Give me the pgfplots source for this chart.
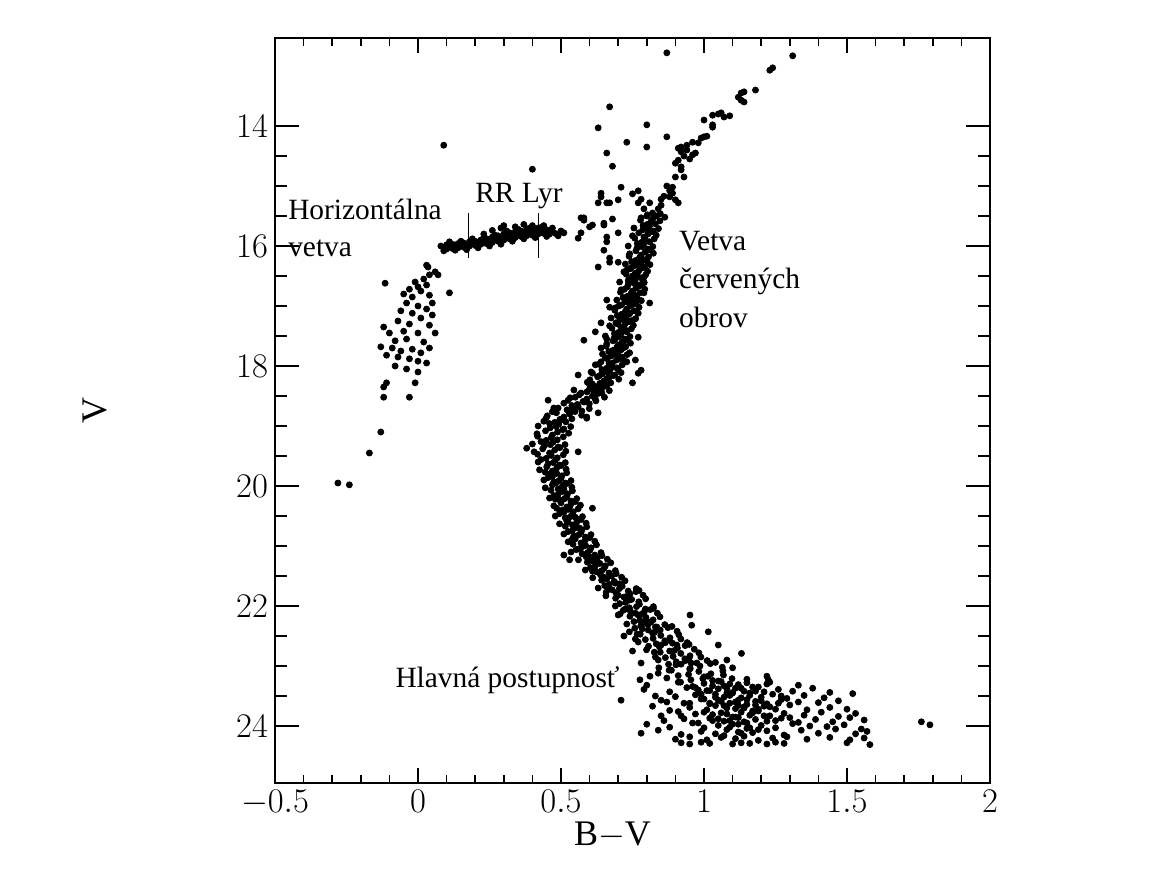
\documentclass[border=0pt]{standalone}
\usepackage{fontspec}
\setmainfont{Liberation Serif}
\usepackage{pgfplots}
\pgfplotsset{compat=1.18}
\pgfplotsset{star/.style={black, only marks, mark=*, mark size=1.5pt, mark options={solid, draw=black, fill=black}}}
\begin{document}
\begin{tikzpicture}
\useasboundingbox (0,0) rectangle (587pt,437pt);
\begin{axis}[
  at={(137.5pt,45.5pt)}, anchor=south west,
  scale only axis, width=357.5pt, height=372.5pt,
  xmin=-0.5, xmax=2, ymin=12.533, ymax=24.95, y dir=reverse,
  xtick={-0.5,0,0.5,1,1.5,2}, ytick={14,16,18,20,22,24},
  minor x tick num=4, minor y tick num=3,
  tick align=inside,
  axis line style={line width=1pt},
  tick style={line width=0.8pt, black},
  xtick style={/pgfplots/major tick length=7.5pt,/pgfplots/minor tick length=4pt},
  ytick style={/pgfplots/major tick length=12pt,/pgfplots/minor tick length=6pt},
  ticklabel style={font=\fontsize{17.5}{20}\selectfont},
  xlabel={$\mathrm{B{-}V}$}, ylabel={$\mathrm{V}$},
  label style={font=\fontsize{18}{21}\selectfont},
  xlabel style={at={(axis description cs:0.472,-0.07)}, anchor=center},
  ylabel style={at={(axis description cs:-0.252,0.50)}, anchor=center},
]
% upper red giant branch and asymptotic giants
\addplot[star] coordinates {
(0.87,12.78) (1.31,12.83) (1.23,13.07) (1.24,13.03) (1.18,13.40) (1.13,13.45) (1.13,13.57) (1.14,13.60) (1.14,13.43) (1.12,13.52)
(1.03,13.82) (1.06,13.78) (1.07,13.85) (1.09,13.83) (1.00,13.90) (1.03,14.02) (1.03,13.98) (1.05,13.80)
(1.00,14.18) (0.99,14.20) (1.01,14.17)
(0.96,14.27) (0.94,14.32) (0.92,14.35) (0.91,14.37) (0.92,14.43) (0.94,14.40) (0.96,14.48) (0.97,14.45) (0.98,14.28) (0.95,14.55) (0.93,14.50)
(0.91,14.57) (0.92,14.68) (0.92,14.73) (0.93,14.85) (0.90,14.85) (0.90,14.62)
(0.87,15.00) (0.88,15.08) (0.89,15.12) (0.86,15.17) (0.85,15.22) (0.89,15.02)
(0.77,15.08) (0.75,15.13) (0.78,15.22) (0.77,15.28) (0.81,15.28) (0.84,15.38) (0.79,15.38) (0.80,15.50) (0.82,15.45) (0.85,15.32) (0.88,15.18) (0.90,15.23) (0.91,15.28)
(0.67,13.68) (0.63,14.03) (0.80,13.98) (0.73,14.27) (0.80,14.35) (0.87,14.18) (0.66,14.45) (0.68,14.67) (0.71,15.02) (0.64,15.18) (0.63,15.28) (0.67,15.28) (0.70,15.23)
(0.58,15.53) (0.60,15.68) (0.65,15.62) (0.68,15.55) (0.58,15.57) (0.61,15.65) (0.57,15.78) (0.56,15.87) (0.65,15.65) (0.66,15.85) (0.66,15.93) (0.70,15.78)
(0.63,16.35) (0.67,16.27) (0.70,16.27) (0.57,15.53) (0.66,15.28) (0.65,16.07) (0.67,16.20) (0.64,15.12)
(0.09,14.32) (0.40,14.72)
};
% horizontal branch
\addplot[star] coordinates {
(0.08,16.00) (0.09,16.03) (0.10,15.98) (0.10,16.05) (0.11,16.01) (0.12,15.97) (0.12,16.04) (0.13,16.00) (0.14,15.96) (0.14,16.03)
(0.15,15.99) (0.16,15.95) (0.16,16.02) (0.17,15.98) (0.18,15.93) (0.18,16.00) (0.19,15.96) (0.20,15.92) (0.20,15.99) (0.21,15.95)
(0.22,15.90) (0.22,15.97) (0.23,15.93) (0.24,15.88) (0.24,15.96) (0.25,15.91) (0.26,15.85) (0.26,15.94) (0.27,15.89) (0.28,15.83)
(0.28,15.92) (0.29,15.87) (0.30,15.80) (0.30,15.90) (0.31,15.85) (0.32,15.78) (0.32,15.88) (0.33,15.83) (0.34,15.76) (0.34,15.86)
(0.35,15.81) (0.36,15.75) (0.36,15.84) (0.37,15.80) (0.38,15.72) (0.38,15.83) (0.39,15.78) (0.40,15.74) (0.40,15.82) (0.41,15.77)
(0.42,15.70) (0.42,15.80) (0.43,15.76) (0.44,15.79) (0.45,15.73) (0.46,15.80) (0.47,15.76) (0.48,15.79) (0.50,15.75) (0.51,15.78)
(0.29,15.70) (0.23,15.80) (0.34,15.68)
(0.09,16.08) (0.11,15.93) (0.13,16.07) (0.15,15.92) (0.17,16.06) (0.19,15.88) (0.21,16.03) (0.23,15.86) (0.25,16.00) (0.27,15.82)
(0.29,15.97) (0.31,15.75) (0.33,15.92) (0.35,15.72) (0.37,15.88) (0.39,15.70) (0.41,15.86) (0.43,15.69) (0.45,15.84) (0.47,15.70)
(0.49,15.83) (0.30,15.66) (0.37,15.64) (0.40,15.66) (0.26,15.74) (0.44,15.66)
(0.035,16.35) (0.06,16.43) (0.11,16.78) (-0.115,16.62) (0.04,16.48) (0.02,16.55) (-0.01,16.60) (0.00,16.68) (0.03,16.65) (-0.03,16.72)
(0.01,16.75) (-0.05,16.80) (-0.02,16.85) (0.04,16.82) (0.05,16.95) (-0.04,16.95) (0.00,17.00) (0.03,17.05) (-0.06,17.08) (-0.02,17.12)
(0.05,17.15) (0.01,17.20) (-0.07,17.25) (-0.03,17.30) (0.04,17.32) (-0.12,17.35) (-0.10,17.45) (-0.05,17.42) (0.00,17.45) (0.06,17.45)
(-0.08,17.58) (-0.04,17.55) (0.02,17.60) (-0.13,17.68) (-0.09,17.70) (-0.06,17.75) (-0.02,17.72) (0.01,17.78) (0.04,17.70) (-0.11,17.82)
(-0.07,17.85) (-0.03,17.88) (0.00,17.92) (0.03,17.95) (-0.08,18.00) (-0.04,18.05) (0.00,18.10) (-0.11,18.28) (-0.12,18.35) (-0.01,18.28)
(-0.12,18.52) (-0.03,18.52) (-0.13,19.10) (-0.17,19.45) (-0.28,19.95) (-0.24,19.98) (0.03,16.32) (0.07,16.48)
};
% red giant branch and subgiant branch
\addplot[star] coordinates {
(0.780,15.53) (0.802,15.48) (0.820,15.55) (0.834,15.50) (0.847,15.46) (0.863,15.52)
(0.778,15.57) (0.801,15.64) (0.815,15.59) (0.830,15.63) (0.846,15.58) (0.787,15.66)
(0.755,15.70) (0.786,15.73) (0.809,15.67) (0.823,15.75) (0.841,15.71) (0.802,15.71)
(0.750,15.83) (0.772,15.78) (0.790,15.85) (0.804,15.80) (0.817,15.76) (0.833,15.82)
(0.758,15.87) (0.781,15.94) (0.795,15.89) (0.810,15.93) (0.826,15.88) (0.767,15.96)
(0.735,16.00) (0.766,16.03) (0.789,15.97) (0.803,16.05) (0.821,16.01) (0.782,16.01)
(0.740,16.13) (0.762,16.08) (0.780,16.15) (0.794,16.10) (0.807,16.06) (0.823,16.12)
(0.738,16.17) (0.761,16.24) (0.775,16.19) (0.790,16.23) (0.806,16.18) (0.747,16.26)
(0.725,16.30) (0.756,16.33) (0.779,16.27) (0.793,16.35) (0.811,16.31) (0.772,16.31)
(0.720,16.43) (0.742,16.38) (0.760,16.45) (0.774,16.40) (0.787,16.36) (0.803,16.42)
(0.728,16.47) (0.751,16.54) (0.765,16.49) (0.780,16.53) (0.796,16.48) (0.737,16.56)
(0.705,16.60) (0.736,16.63) (0.759,16.57) (0.773,16.65) (0.791,16.61) (0.752,16.61)
(0.710,16.73) (0.732,16.68) (0.750,16.75) (0.764,16.70) (0.777,16.66) (0.793,16.72)
(0.708,16.77) (0.731,16.84) (0.745,16.79) (0.760,16.83) (0.776,16.78) (0.717,16.86)
(0.695,16.90) (0.726,16.93) (0.749,16.87) (0.763,16.95) (0.781,16.91) (0.742,16.91)
(0.690,17.03) (0.712,16.98) (0.730,17.05) (0.744,17.00) (0.757,16.96) (0.773,17.02)
(0.688,17.07) (0.711,17.14) (0.725,17.09) (0.740,17.13) (0.756,17.08) (0.697,17.16)
(0.675,17.20) (0.706,17.23) (0.729,17.17) (0.743,17.25) (0.761,17.21) (0.722,17.21)
(0.670,17.33) (0.692,17.28) (0.710,17.35) (0.724,17.30) (0.737,17.26) (0.753,17.32)
(0.678,17.37) (0.701,17.44) (0.715,17.39) (0.730,17.43) (0.746,17.38) (0.687,17.46)
(0.655,17.50) (0.686,17.53) (0.709,17.47) (0.723,17.55) (0.741,17.51) (0.702,17.51)
(0.660,17.63) (0.682,17.58) (0.700,17.65) (0.714,17.60) (0.727,17.56) (0.743,17.62)
(0.658,17.67) (0.681,17.74) (0.695,17.69) (0.710,17.73) (0.726,17.68) (0.667,17.76)
(0.645,17.80) (0.676,17.83) (0.699,17.77) (0.713,17.85) (0.731,17.81) (0.692,17.81)
(0.640,17.93) (0.662,17.88) (0.680,17.95) (0.694,17.90) (0.707,17.86) (0.723,17.92)
(0.632,17.97) (0.659,18.04) (0.676,17.99) (0.695,18.03) (0.714,17.98) (0.643,18.06)
(0.605,18.10) (0.644,18.13) (0.671,18.07) (0.688,18.15) (0.710,18.11) (0.663,18.11)
(0.601,18.23) (0.628,18.18) (0.650,18.25) (0.667,18.20) (0.683,18.16) (0.702,18.22)
(0.592,18.27) (0.619,18.34) (0.636,18.29) (0.655,18.33) (0.674,18.28) (0.603,18.36)
(0.545,18.40) (0.591,18.43) (0.623,18.37) (0.643,18.45) (0.669,18.41) (0.613,18.41)
(0.532,18.53) (0.564,18.48) (0.590,18.55) (0.610,18.50) (0.629,18.46) (0.652,18.52)
(0.525,18.57) (0.557,18.64) (0.577,18.59) (0.599,18.63) (0.622,18.58) (0.538,18.66)
(0.475,18.70) (0.521,18.73) (0.553,18.67) (0.573,18.75) (0.599,18.71) (0.543,18.71)
(0.452,18.83) (0.484,18.78) (0.510,18.85) (0.530,18.80) (0.549,18.76) (0.572,18.82)
(0.448,18.87) (0.478,18.94) (0.496,18.89) (0.517,18.93) (0.538,18.88) (0.460,18.96)
(0.420,19.00) (0.462,19.03) (0.492,18.97) (0.510,19.05) (0.534,19.01) (0.483,19.01)
(0.416,19.13) (0.446,19.08) (0.470,19.15) (0.488,19.10) (0.506,19.06) (0.527,19.12)
(0.418,19.17) (0.448,19.24) (0.466,19.19) (0.487,19.23) (0.508,19.18) (0.430,19.26)
(0.400,19.30) (0.442,19.33) (0.472,19.27) (0.490,19.35) (0.514,19.31) (0.463,19.31)
(0.406,19.43) (0.436,19.38) (0.460,19.45) (0.478,19.40) (0.496,19.36) (0.517,19.42)
(0.418,19.47) (0.448,19.54) (0.466,19.49) (0.487,19.53) (0.508,19.48) (0.430,19.56)
(0.64,17.70) (0.72,17.66) (0.68,18.02) (0.70,17.45) (0.62,17.98) (0.66,17.55) (0.61,18.12) (0.74,17.78)
(0.38,19.37) (0.56,19.43) (0.455,18.57) (0.59,18.87) (0.58,17.57) (0.56,18.15) (0.75,18.28) (0.77,18.12) (0.78,18.07)
(0.76,17.90) (0.73,17.93) (0.77,17.52) (0.79,16.78) (0.81,16.95) (0.77,17.12) (0.64,17.28) (0.62,17.43) (0.66,16.90) (0.67,17.02)
(0.59,18.85) (0.63,18.78)
(0.57,18.45) (0.60,18.38) (0.64,18.40) (0.55,18.52) (0.58,18.60) (0.62,18.55) (0.51,18.62) (0.49,18.70) (0.56,18.68) (0.47,18.76)
(0.53,18.78) (0.50,18.90) (0.44,18.92) (0.66,18.32) (0.60,18.31)
(0.745,16.36) (0.768,16.44) (0.790,16.52) (0.735,16.58) (0.762,16.66) (0.785,16.62) (0.722,16.72) (0.755,16.81) (0.738,16.95) (0.768,16.88)
(0.702,17.00) (0.735,17.11) (0.715,17.18) (0.750,17.24) (0.698,17.30) (0.725,17.40) (0.690,17.55) (0.717,17.70) (0.685,17.78) (0.705,17.88)
(0.655,17.86) (0.668,17.96) (0.700,18.06) (0.635,18.16) (0.660,18.21) (0.610,18.30) (0.645,18.36) (0.75,16.50) (0.80,16.25) (0.73,16.40)
};
% main sequence
\addplot[star] coordinates {
(0.420,19.60) (0.455,19.63) (0.480,19.57) (0.495,19.65) (0.515,19.61) (0.473,19.61)
(0.425,19.73) (0.450,19.68) (0.470,19.75) (0.485,19.70) (0.500,19.66) (0.518,19.72)
(0.445,19.77) (0.470,19.84) (0.485,19.79) (0.503,19.83) (0.520,19.78) (0.455,19.86)
(0.440,19.90) (0.475,19.93) (0.500,19.87) (0.515,19.95) (0.535,19.91) (0.493,19.91)
(0.445,20.03) (0.470,19.98) (0.490,20.05) (0.505,20.00) (0.520,19.96) (0.538,20.02)
(0.465,20.07) (0.490,20.14) (0.505,20.09) (0.523,20.13) (0.540,20.08) (0.475,20.16)
(0.460,20.20) (0.495,20.23) (0.520,20.17) (0.535,20.25) (0.555,20.21) (0.513,20.21)
(0.475,20.33) (0.500,20.28) (0.520,20.35) (0.535,20.30) (0.550,20.26) (0.568,20.32)
(0.485,20.37) (0.510,20.44) (0.525,20.39) (0.543,20.43) (0.560,20.38) (0.495,20.46)
(0.480,20.50) (0.515,20.53) (0.540,20.47) (0.555,20.55) (0.575,20.51) (0.533,20.51)
(0.495,20.63) (0.520,20.58) (0.540,20.65) (0.555,20.60) (0.570,20.56) (0.588,20.62)
(0.515,20.67) (0.540,20.74) (0.555,20.69) (0.573,20.73) (0.590,20.68) (0.525,20.76)
(0.510,20.80) (0.545,20.83) (0.570,20.77) (0.585,20.85) (0.605,20.81) (0.563,20.81)
(0.525,20.93) (0.550,20.88) (0.570,20.95) (0.585,20.90) (0.600,20.86) (0.618,20.92)
(0.542,20.97) (0.569,21.04) (0.586,20.99) (0.605,21.03) (0.624,20.98) (0.553,21.06)
(0.535,21.10) (0.574,21.13) (0.601,21.07) (0.618,21.15) (0.640,21.11) (0.593,21.11)
(0.561,21.23) (0.588,21.18) (0.610,21.25) (0.627,21.20) (0.643,21.16) (0.662,21.22)
(0.592,21.27) (0.619,21.34) (0.636,21.29) (0.655,21.33) (0.674,21.28) (0.603,21.36)
(0.585,21.40) (0.624,21.43) (0.651,21.37) (0.668,21.45) (0.690,21.41) (0.643,21.41)
(0.611,21.53) (0.638,21.48) (0.660,21.55) (0.677,21.50) (0.693,21.46) (0.712,21.52)
(0.642,21.57) (0.669,21.64) (0.686,21.59) (0.705,21.63) (0.724,21.58) (0.653,21.66)
(0.630,21.70) (0.679,21.73) (0.714,21.67) (0.735,21.75) (0.763,21.71) (0.704,21.71) (0.658,21.77)
(0.657,21.83) (0.692,21.78) (0.720,21.85) (0.741,21.80) (0.762,21.76) (0.787,21.82) (0.773,21.74)
(0.691,21.87) (0.726,21.94) (0.747,21.89) (0.772,21.93) (0.796,21.88) (0.705,21.96) (0.730,21.84)
(0.690,22.00) (0.739,22.03) (0.774,21.97) (0.795,22.05) (0.823,22.01) (0.764,22.01) (0.718,22.07)
(0.707,22.13) (0.742,22.08) (0.770,22.15) (0.791,22.10) (0.812,22.06) (0.837,22.12) (0.823,22.04)
(0.741,22.17) (0.776,22.24) (0.797,22.19) (0.822,22.23) (0.846,22.18) (0.755,22.26) (0.780,22.14)
(0.730,22.30) (0.779,22.33) (0.814,22.27) (0.835,22.35) (0.863,22.31) (0.804,22.31) (0.758,22.37)
(0.739,22.43) (0.784,22.38) (0.820,22.45) (0.847,22.40) (0.874,22.36) (0.906,22.42) (0.888,22.34) (0.766,22.47)
(0.777,22.47) (0.822,22.54) (0.849,22.49) (0.881,22.53) (0.912,22.48) (0.795,22.56) (0.827,22.44) (0.863,22.58)
(0.770,22.60) (0.833,22.63) (0.878,22.57) (0.905,22.65) (0.941,22.61) (0.865,22.61) (0.806,22.67) (0.919,22.55)
(0.799,22.73) (0.844,22.68) (0.880,22.75) (0.907,22.70) (0.934,22.66) (0.966,22.72) (0.948,22.64) (0.826,22.77)
(0.847,22.77) (0.892,22.84) (0.919,22.79) (0.951,22.83) (0.982,22.78) (0.865,22.86) (0.897,22.74) (0.933,22.88)
(0.840,22.90) (0.903,22.93) (0.948,22.87) (0.975,22.95) (1.011,22.91) (0.935,22.91) (0.876,22.97) (0.989,22.85)
(0.842,23.03) (0.902,22.98) (0.950,23.05) (0.986,23.00) (1.022,22.96) (1.064,23.02) (1.040,22.94) (0.878,23.07) (1.100,23.03)
(0.886,23.07) (0.946,23.14) (0.982,23.09) (1.024,23.13) (1.066,23.08) (0.910,23.16) (0.952,23.04) (1.000,23.18) (0.840,23.12)
(0.870,23.20) (0.954,23.23) (1.014,23.17) (1.050,23.25) (1.098,23.21) (0.996,23.21) (0.918,23.27) (1.068,23.15) (1.150,23.22)
(0.61,20.37) (0.51,21.15) (0.53,21.23)
(0.951,22.15) (0.957,22.32) (1.015,22.43) (1.131,22.79) (1.05,22.65) (1.08,22.90) (0.70,22.15) (0.72,22.50) (0.75,22.75) (0.78,22.95)
(1.22,23.17) (1.225,23.23) (0.776,23.23) (0.811,23.17)
(0.460,19.80) (0.482,19.95) (0.510,20.05) (0.480,20.22) (0.505,20.40) (0.530,20.35) (0.525,20.60) (0.550,20.52) (0.540,20.88) (0.565,20.70)
(0.580,21.00) (0.560,21.05) (0.600,21.18) (0.625,21.30) (0.610,21.42) (0.650,21.52) (0.690,21.62) (0.665,21.72) (0.700,21.82) (0.740,21.90)
(0.725,22.05) (0.760,22.12) (0.790,22.28) (0.805,22.40) (0.830,22.35) (0.760,22.55) (0.850,22.65) (0.890,22.62) (0.830,22.85) (0.920,22.97)
(0.955,22.95) (0.800,22.25)
};
% faint end of the main sequence
\addplot[star] coordinates {
(0.80,23.32) (0.91,23.27) (0.96,23.34) (1.00,23.29) (1.03,23.33) (1.06,23.26) (1.09,23.30) (1.12,23.31) (1.15,23.28) (1.19,23.35) (1.23,23.27) (1.33,23.32)
(0.79,23.39) (0.88,23.43) (0.94,23.36) (0.98,23.40) (1.01,23.41) (1.05,23.38) (1.08,23.45) (1.11,23.37) (1.14,23.42) (1.17,23.35) (1.21,23.43) (1.26,23.39) (1.31,23.42) (1.38,23.37) (1.44,23.44)
(0.83,23.50) (0.90,23.51) (0.97,23.48) (1.00,23.55) (1.04,23.47) (1.07,23.52) (1.10,23.45) (1.13,23.53) (1.16,23.49) (1.20,23.52) (1.24,23.47) (1.29,23.54) (1.35,23.49) (1.42,23.53) (1.52,23.46)
(0.71,23.57) (0.85,23.57) (0.93,23.62) (0.99,23.55) (1.02,23.63) (1.06,23.59) (1.09,23.62) (1.12,23.57) (1.15,23.64) (1.18,23.59) (1.22,23.63) (1.27,23.56) (1.33,23.60) (1.40,23.61) (1.47,23.58)
(0.82,23.67) (0.88,23.74) (0.95,23.69) (1.01,23.73) (1.04,23.66) (1.08,23.70) (1.11,23.71) (1.14,23.68) (1.17,23.75) (1.21,23.67) (1.25,23.72) (1.30,23.65) (1.36,23.73) (1.44,23.69) (1.50,23.72)
(0.85,23.83) (0.91,23.76) (0.97,23.80) (1.03,23.81) (1.06,23.78) (1.10,23.85) (1.13,23.77) (1.16,23.82) (1.19,23.75) (1.23,23.83) (1.28,23.79) (1.35,23.82) (1.41,23.77) (1.47,23.84) (1.53,23.79)
(0.86,23.91) (0.93,23.88) (0.98,23.95) (1.02,23.87) (1.07,23.92) (1.11,23.85) (1.14,23.93) (1.18,23.89) (1.22,23.92) (1.27,23.87) (1.33,23.94) (1.39,23.89) (1.45,23.93) (1.51,23.86) (1.56,23.90)
(0.80,23.97) (0.88,24.02) (0.96,23.95) (1.00,24.03) (1.05,23.99) (1.09,24.02) (1.12,23.97) (1.15,24.04) (1.20,23.99) (1.25,24.03) (1.31,23.96) (1.37,24.00) (1.43,24.01) (1.49,23.98) (1.55,24.05)
(0.78,24.12) (0.84,24.07) (0.92,24.14) (0.99,24.09) (1.04,24.13) (1.08,24.06) (1.12,24.10) (1.17,24.11) (1.22,24.08) (1.28,24.15) (1.34,24.07) (1.40,24.12) (1.46,24.05) (1.53,24.13) (1.57,24.09)
(0.90,24.22) (0.95,24.18) (1.01,24.23) (1.06,24.19) (1.11,24.21) (1.14,24.17) (1.19,24.24) (1.24,24.20) (1.29,24.18) (1.36,24.22) (1.44,24.19) (1.51,24.23) (1.56,24.20)
(0.92,24.28) (0.95,24.30) (0.99,24.27) (1.02,24.29) (1.10,24.30) (1.13,24.28) (1.16,24.29) (1.22,24.30) (1.25,24.27) (1.28,24.29) (1.50,24.28) (1.58,24.31)
(0.97,23.36) (1.02,23.41) (1.07,23.33) (1.10,23.44) (1.13,23.37) (1.18,23.42) (0.99,23.47) (1.04,23.52) (1.09,23.49) (1.15,23.56)
(1.20,23.58) (1.02,23.62) (1.07,23.66) (1.11,23.60) (1.14,23.70) (1.18,23.65) (1.23,23.68) (1.00,23.77) (1.08,23.80) (1.12,23.86)
(1.17,23.78) (1.21,23.83) (1.25,23.91) (1.10,23.97) (1.16,24.03) (1.13,24.12) (1.05,23.88) (0.95,23.62) (1.27,23.50) (1.22,23.30)
(1.03,23.24) (1.08,23.38) (1.16,23.45) (1.05,23.57) (1.12,23.66) (1.19,23.72) (1.03,23.91) (1.09,23.91) (1.15,23.95) (1.19,24.06)
(1.07,24.16) (0.87,23.60) (0.92,23.83) (1.30,23.86) (1.26,23.62)
(1.76,23.93) (1.79,23.98)
};
% RR Lyrae gap marks
\draw[line width=0.7pt] (axis cs:0.176,15.45) -- (axis cs:0.176,16.20);
\draw[line width=0.7pt] (axis cs:0.421,15.45) -- (axis cs:0.421,16.20);
% annotations
\node[anchor=base west, inner sep=0pt, font=\fontsize{14.7}{17}\selectfont] at (axis cs:-0.455,15.55) {Horizontálna};
\node[anchor=base west, inner sep=0pt, font=\fontsize{14.7}{17}\selectfont] at (axis cs:-0.455,16.18) {vetva};
\node[anchor=base west, inner sep=0pt, font=\fontsize{14.7}{17}\selectfont] at (axis cs:0.199,15.28) {RR Lyr};
\node[anchor=base west, inner sep=0pt, font=\fontsize{14.7}{17}\selectfont] at (axis cs:0.912,16.07) {Vetva};
\node[anchor=base west, inner sep=0pt, font=\fontsize{14.7}{17}\selectfont] at (axis cs:0.912,16.70) {červených};
\node[anchor=base west, inner sep=0pt, font=\fontsize{14.7}{17}\selectfont] at (axis cs:0.912,17.35) {obrov};
\node[anchor=base west, inner sep=0pt, font=\fontsize{14.7}{17}\selectfont] at (axis cs:-0.080,23.35) {Hlavná postupnosť};
\end{axis}
\end{tikzpicture}
\end{document}
